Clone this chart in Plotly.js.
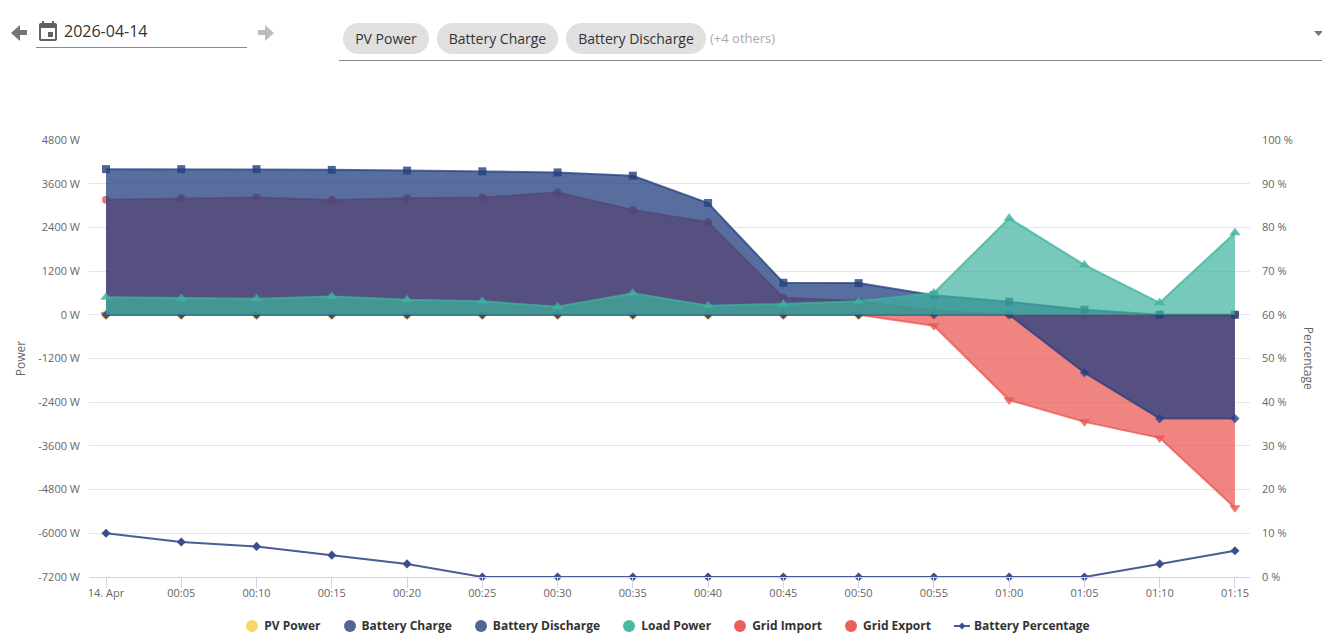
<!DOCTYPE html>
<html>
<head>
<meta charset="utf-8">
<script src="https://cdn.plot.ly/plotly-3.0.1.min.js"></script>
<style>
    html, body { margin: 0; padding: 0; background: #fff; overflow: hidden; font-family: "Open Sans", sans-serif; }
    #chart { position: absolute; left: 0; top: 0; width: 1322px; height: 644px; }
    .abs { position: absolute; }
    .chip { position: absolute; top: 23px; height: 31px; line-height: 31px; border-radius: 16px; background: #e0e0e0; color: #333; font-size: 14px; text-align: center; }
    #legend { position: absolute; left: 0; width: 1336px; top: 617px; display: flex; justify-content: center; gap: 23px; font-size: 12px; font-weight: 700; color: #333; line-height: 17px; }
    #legend span.item { display: flex; align-items: center; white-space: nowrap; }
    #legend svg { margin-right: 6px; }
    #legend svg.line-icon { margin-right: 4px; }
</style>
</head>
<body>
<div id="chart"></div>

<svg class="abs" style="left:11px;top:25px" width="17" height="16" viewBox="0 0 17 16"><path d="M0 8 L9 0 V5 H16 V10 H9 V16 Z" fill="#757575"/></svg>
<svg class="abs" style="left:36px;top:20px" width="24" height="24" viewBox="0 0 24 24"><path d="M17 12h-5v5h5v-5zM16 1v2H8V1H6v2H5c-1.11 0-1.99.9-1.99 2L3 19c0 1.1.89 2 2 2h14c1.1 0 2-.9 2-2V5c0-1.1-.9-2-2-2h-1V1h-2zm3 18H5V8h14v11z" fill="#616161"/></svg>
<div class="abs" style="left:64px;top:20px;font-size:16px;line-height:22px;color:#333">2026-04-14</div>
<div class="abs" style="left:36px;top:47px;width:211px;height:1px;background:#8a8a8a"></div>
<svg class="abs" style="left:257px;top:25px" width="17" height="16" viewBox="0 0 17 16"><path d="M17 8 L8 0 V5 H1 V10 H8 V16 Z" fill="#bdbdbd"/></svg>

<div class="chip" style="left:343px;width:86px">PV Power</div>
<div class="chip" style="left:437px;width:121px">Battery Charge</div>
<div class="chip" style="left:566px;width:140px">Battery Discharge</div>
<div class="abs" style="left:710px;top:30px;font-size:13px;line-height:17px;color:#aaa">(+4 others)</div>
<svg class="abs" style="left:1314px;top:31px" width="10" height="6"><path d="M0 0 H9 L4.5 5 Z" fill="#757575"/></svg>
<div class="abs" style="left:339px;top:60px;width:983px;height:1px;background:#8a8a8a"></div>

<div id="legend"></div>

<script>
var times = ['14. Apr', '00:05', '00:10', '00:15', '00:20', '00:25', '00:30', '00:35', '00:40', '00:45', '00:50', '00:55', '01:00', '01:05', '01:10', '01:15']

var pv_power = [0, 0, 0, 0, 0, 0, 0, 0, 0, 0, 0, 0, 0, 0, 0, 0]
var battery_charge = [0, 0, 0, 0, 0, 0, 0, 0, 0, 0, 0, 0, 0, -1590, -2850, -2850]
var battery_discharge = [4000, 4000, 4000, 3980, 3960, 3940, 3910, 3820, 3070, 880, 870, 540, 360, 140, 0, 0]
var load_power = [480, 450, 440, 500, 410, 370, 220, 590, 250, 300, 370, 600, 2650, 1370, 330, 2250]
var grid_import = [3160, 3200, 3220, 3150, 3200, 3220, 3360, 2880, 2540, 470, 380, 110, 0, 0, 0, 0]
var grid_export = [0, 0, 0, 0, 0, 0, 0, 0, 0, 0, 0, -300, -2340, -2940, -3380, -5300]
var battery_percentage = [10, 8, 7, 5, 3, 0, 0, 0, 0, 0, 0, 0, 0, 0, 3, 6]

var power_ticks = [4800, 3600, 2400, 1200, 0, -1200, -2400, -3600, -4800, -6000, -7200]
var percent_ticks = [100, 90, 80, 70, 60, 50, 40, 30, 20, 10, 0]

var yellow = '#f9d65c', blue = '#24407f', teal = '#3db39e', red = '#ea5550'

function rgba(hex, a) {
    var n = parseInt(hex.slice(1), 16)
    return `rgba(${n >> 16},${(n >> 8) & 255},${n & 255},${a})`
}

function area(name, y, color, symbol, alpha, size) {
    return {
        x: times,
        y: y,
        name: name,
        type: 'scatter',
        mode: 'lines+markers',
        fill: 'tozeroy',
        fillcolor: rgba(color, alpha),
        line: { color: rgba(color, 0.75), width: 2 },
        marker: { color: rgba(color, 0.8), symbol: symbol, size: size },
        cliponaxis: false
    }
}

// later traces paint over earlier ones, so blue has to come after red here
var traces = [
    area('PV Power', pv_power, yellow, 'circle', 0.72, 9),
    area('Grid Import', grid_import, red, 'circle', 0.72, 8),
    area('Grid Export', grid_export, red, 'triangle-down', 0.72, 10),
    area('Battery Charge', battery_charge, blue, 'diamond', 0.76, 7),
    area('Battery Discharge', battery_discharge, blue, 'square', 0.76, 8),
    area('Load Power', load_power, teal, 'triangle-up', 0.7, 10),
    {
        x: times,
        y: battery_percentage,
        name: 'Battery Percentage',
        yaxis: 'y2',
        type: 'scatter',
        mode: 'lines+markers',
        line: { color: '#4a5d94', width: 2 },
        marker: { color: '#3b4f8c', symbol: 'diamond', size: 7 },
        cliponaxis: false
    }
]

var tick_font = { family: '"Open Sans", sans-serif', size: 11, color: '#666' }
var title_font = { family: '"Open Sans", sans-serif', size: 12, color: '#666' }

var layout = {
    width: 1322,
    height: 644,
    margin: { l: 89, r: 72, t: 140, b: 67 },
    paper_bgcolor: 'rgba(0,0,0,0)',
    plot_bgcolor: 'rgba(0,0,0,0)',
    showlegend: false,
    xaxis: {
        type: 'category',
        range: [-0.226, 15.2],
        tickmode: 'array',
        tickvals: times,
        ticktext: times,
        ticks: 'outside',
        ticklen: 10,
        tickcolor: '#ccd6eb',
        tickwidth: 1,
        ticklabelstandoff: -4,
        showline: true,
        linecolor: '#ccd6eb',
        linewidth: 1,
        showgrid: false,
        zeroline: false,
        tickangle: 0,
        tickfont: tick_font
    },
    yaxis: {
        range: [-7200, 4800],
        tickmode: 'array',
        tickvals: power_ticks,
        ticktext: power_ticks.map(function (v) { return v + ' W' }),
        gridcolor: '#e6e6e6',
        gridwidth: 1,
        zeroline: false,
        ticks: '',
        ticklabelstandoff: 8,
        tickfont: tick_font,
        title: { text: 'Power', font: title_font, standoff: 10 }
    },
    yaxis2: {
        overlaying: 'y',
        side: 'right',
        range: [0, 100],
        tickmode: 'array',
        tickvals: percent_ticks,
        ticktext: percent_ticks.map(function (v) { return v + ' %' }),
        showgrid: false,
        zeroline: false,
        ticks: '',
        ticklabelstandoff: 11,
        tickfont: tick_font
    },
    annotations: [{
        // right axis title reads top to bottom, the axis title option can't do that
        text: 'Percentage',
        xref: 'paper',
        yref: 'paper',
        x: 1.0505,
        y: 0.5,
        xanchor: 'center',
        yanchor: 'middle',
        textangle: 90,
        showarrow: false,
        font: title_font
    }]
}

Plotly.newPlot('chart', traces, layout, { displayModeBar: false })

var legend_names = ['PV Power', 'Battery Charge', 'Battery Discharge', 'Load Power', 'Grid Import', 'Grid Export', 'Battery Percentage']
var legend_colors = ['#f8d766', '#536596', '#536596', '#4bb8a4', '#ec5f5b', '#ec5f5b', '#3f5290']

document.getElementById('legend').innerHTML = legend_names.map(function (name, i) {
    var icon = name === 'Battery Percentage'
        ? `<svg class="line-icon" width="16" height="12"><path d="M0 6 H16" stroke="#4a5d94" stroke-width="2"/><path d="M8 2.5 L11.5 6 L8 9.5 L4.5 6 Z" fill="${legend_colors[i]}"/></svg>`
        : `<svg width="12" height="12"><circle cx="6" cy="6" r="6" fill="${legend_colors[i]}"/></svg>`
    return `<span class="item">${icon}${name}</span>`
}).join('')
</script>
</body>
</html>
